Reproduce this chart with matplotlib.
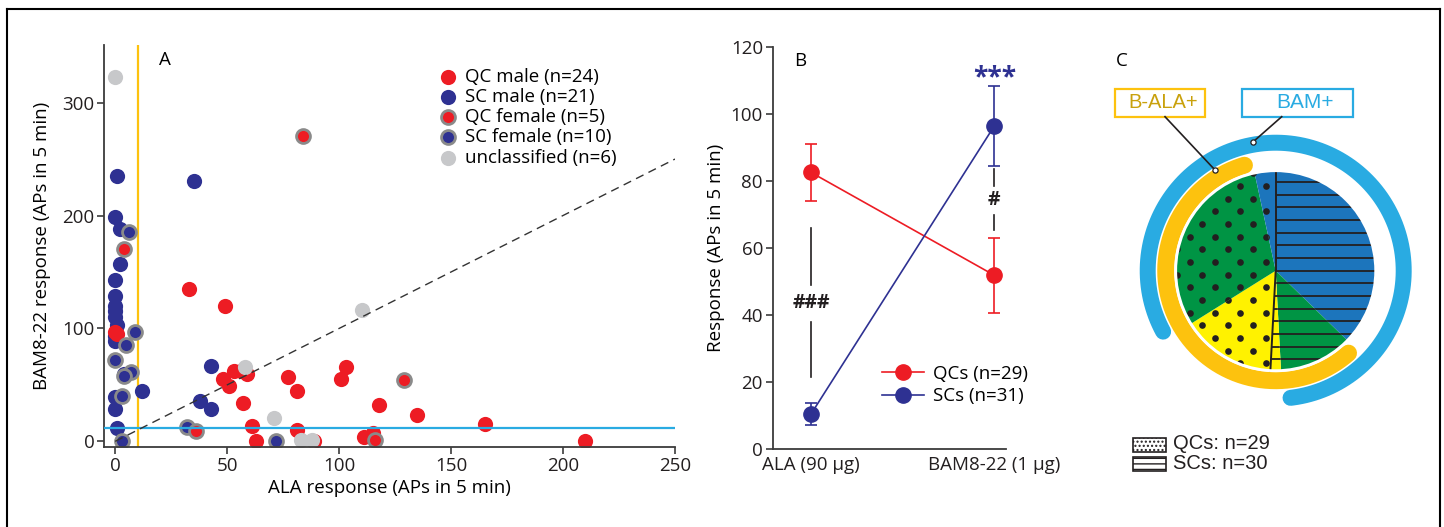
import numpy as np
import matplotlib
matplotlib.use("Agg")
import matplotlib.pyplot as plt
from matplotlib.lines import Line2D
from matplotlib.patches import Rectangle, Circle
from matplotlib.collections import LineCollection

plt.rcParams['font.family'] = ['Open Sans', 'DejaVu Sans']

# ---- colours
RED = '#ed1c24'
NAVY = '#2e3192'
FEM_EDGE = '#8a8a8a'
GREY = '#c7c8ca'
GOLD = '#fdc20e'
SKY = '#29abe2'
AXCOL = '#3c3c3c'
PIE_BLUE = '#1c75bc'
PIE_GREEN = '#009444'
PIE_YELLOW = '#fff200'
INK = '#231f20'

# ---- panel A: single-cell responses
qc_male_x = [0, 1, 33, 49, 48, 53, 51, 59, 57, 77, 81, 61, 63, 81, 89, 101, 103, 118, 135, 165, 210, 111, 115, 56]
qc_male_y = [97, 95, 135, 120, 55, 62, 49, 60, 34, 57, 45, 14, 0, 10, 0, 55, 66, 32, 23, 15, 0, 4, 7, 62]
sc_male_x = [1, 35, 0, 2, 2, 0, 0, 0, 0, 1, 0, 12, 0, 0, 1, 43, 38, 43, 0, 4, 0]
sc_male_y = [235, 231, 199, 188, 157, 143, 129, 120, 110, 103, 89, 45, 39, 29, 12, 67, 36, 29, 115, 60, 93]
qc_female_x = [84, 4, 36, 129, 116]
qc_female_y = [270, 170, 9, 54, 1]
sc_female_x = [6, 9, 5, 0, 7, 4, 3, 3, 32, 72]
sc_female_y = [185, 97, 85, 72, 61, 58, 40, 0, 13, 0]
uncl_x = [0, 58, 71, 83, 88, 110]
uncl_y = [323, 66, 21, 1, 1, 116]
ala_thresh = 10
bam_thresh = 12

# ---- panel B: mean +/- SEM
conditions = ['ALA (90 µg)', 'BAM8-22 (1 µg)']
qc_mean = [82.6, 51.9]
qc_sem = [8.5, 11.2]
sc_mean = [10.5, 96.5]
sc_sem = [3.3, 12.0]

# ---- panel C: responder classes (SC BAM-only, SC both, SC ALA-only, QC ALA-only, QC both, QC BAM-only)
pie_counts = [22, 7, 1, 9, 18, 2]
pie_groups = ['SC', 'SC', 'SC', 'QC', 'QC', 'QC']
pie_colors = [PIE_BLUE, PIE_GREEN, PIE_YELLOW, PIE_YELLOW, PIE_GREEN, PIE_BLUE]

W, H = 1444, 527
FS = 13.5
fig = plt.figure(figsize=(W / 100, H / 100), dpi=100)


def px_axes(x0, y0, x1, y1):
    # axes box from pixel corners (top-left origin)
    return fig.add_axes([x0 / W, (H - y1) / H, (x1 - x0) / W, (y1 - y0) / H])


def style_axes(ax):
    for s in ['top', 'right']:
        ax.spines[s].set_visible(False)
    for s in ['left', 'bottom']:
        ax.spines[s].set_color(AXCOL)
        ax.spines[s].set_linewidth(1.3)
    ax.tick_params(direction='out', length=5, width=1.2, color=AXCOL,
                   labelsize=FS, pad=2, labelcolor=INK)


# ================= A
axa = px_axes(104, 45, 675, 447)
style_axes(axa)
axa.set_xlim(-5, 250)
axa.set_ylim(-5, 351)
axa.set_xticks([0, 50, 100, 150, 200, 250])
axa.set_yticks([0, 100, 200, 300])

axa.axvline(ala_thresh, color=GOLD, lw=1.6, zorder=1)
mk = dict(s=120, zorder=2)
axa.scatter(sc_male_x, sc_male_y, color=NAVY, lw=0, label='SC male (n=21)', **mk)
axa.scatter(qc_male_x, qc_male_y, color=RED, lw=0, label='QC male (n=24)', **mk)
axa.scatter(sc_female_x, sc_female_y, color=NAVY, edgecolor=FEM_EDGE, lw=2,
            label='SC female (n=10)', s=100, zorder=2)
axa.scatter(qc_female_x, qc_female_y, color=RED, edgecolor=FEM_EDGE, lw=2,
            label='QC female (n=5)', s=100, zorder=2)
axa.scatter(uncl_x, uncl_y, color=GREY, lw=0, label='unclassified (n=6)', **mk)
axa.axhline(bam_thresh, color=SKY, lw=1.6, zorder=3)
axa.plot([0, 250], [0, 250], ls=(0, (6, 4)), color='#333333', lw=1.0, zorder=3)

h, l = axa.get_legend_handles_labels()
order = [1, 0, 3, 2, 4]
axa.legend([h[i] for i in order], [l[i] for i in order], loc='upper left',
           bbox_to_anchor=(0.566, 0.967), frameon=False, fontsize=FS,
           handletextpad=0.3, labelspacing=0.12, borderpad=0, handlelength=1.2)

axa.set_xlabel('ALA response (APs in 5 min)', fontsize=FS, labelpad=3)
axa.set_ylabel('BAM8-22 response (APs in 5 min)', fontsize=FS, labelpad=8)
axa.text(22, 338, 'A', fontsize=FS, ha='center', va='center')

# ================= B
axb = px_axes(772.7, 47.3, 1006, 449)
style_axes(axb)
axb.set_xlim(-0.21, 1.064)
axb.set_ylim(0, 120)
axb.set_yticks(range(0, 121, 20))
xpos = np.arange(len(conditions))
axb.set_xticks(xpos)
axb.set_xticklabels(conditions)
axb.tick_params(axis='x', length=0, pad=5)

handles = []
for mean, sem, col, lab in [(qc_mean, qc_sem, RED, 'QCs (n=29)'),
                            (sc_mean, sc_sem, NAVY, 'SCs (n=31)')]:
    axb.errorbar(xpos, mean, yerr=sem, color=col, lw=1.2, elinewidth=1.2,
                 capsize=4.5, capthick=1.2, marker='o', markersize=11, zorder=3)
    handles.append(Line2D([], [], color=col, lw=1.2, marker='o', markersize=11, label=lab))

axb.legend(handles=handles, loc='upper left', bbox_to_anchor=(0.43, 0.233),
           frameon=False, fontsize=FS, handlelength=2.2, handletextpad=0.5,
           labelspacing=0.25, borderpad=0)

axb.text(1, 111, '***', color=NAVY, fontsize=19, fontweight='bold',
         ha='center', va='center')
axb.plot([0, 0], [21.5, 38], color=INK, lw=1.2)
axb.plot([0, 0], [49, 66], color=INK, lw=1.2)
axb.text(0, 43.6, '###', fontsize=14, fontweight='bold', ha='center', va='center', color=INK)
axb.plot([1, 1], [78.5, 83.5], color=INK, lw=1.2)
axb.plot([1, 1], [65.4, 70], color=INK, lw=1.2)
axb.text(1, 74.4, '#', fontsize=14, fontweight='bold', ha='center', va='center', color=INK)
axb.set_ylabel('Response (APs in 5 min)', fontsize=FS, labelpad=4)
axb.text(-0.058, 116, 'B', fontsize=FS, ha='center', va='center')

# ================= C
axc = px_axes(1100, 40, 1440, 500)
wedges, _ = axc.pie(pie_counts, colors=pie_colors, startangle=90,
                    counterclock=False, radius=1.0,
                    wedgeprops=dict(edgecolor='none', linewidth=0))
axc.set_xlim(-1.757, 1.643)
axc.set_ylim(-2.293, 2.307)
axc.set_axis_off()

# pattern fills: dots for QCs, horizontal lines for SCs
row_gap = 0.1267
for w, grp in zip(wedges, pie_groups):
    if grp == 'SC':
        ys = 0.593 + row_gap * np.arange(-13, 5) + 0.04
        segs = [[(-1.1, y), (1.1, y)] for y in ys]
        lc = LineCollection(segs, colors=INK, linewidths=1.3, zorder=3)
        axc.add_collection(lc)
        lc.set_clip_path(w)
    else:
        px, py = [], []
        for j in range(-13, 5):
            y = 0.593 + j * row_gap
            x0 = -0.1 + (j % 2) * row_gap
            for i in range(-6, 6):
                px.append(x0 + i * 2 * row_gap)
                py.append(y)
        dots = axc.scatter(px, py, s=23, color=INK, lw=0, zorder=3)
        dots.set_clip_path(w)

bounds = 90 - 360 * np.concatenate([[0], np.cumsum(pie_counts)]) / sum(pie_counts)
for a in [bounds[0], bounds[3]]:
    t = np.deg2rad(a)
    axc.plot([0, np.cos(t)], [0, np.sin(t)], color=INK, lw=1.4, zorder=4)
axc.add_patch(Circle((0, 0), 1.0, fill=False, ec='white', lw=2, zorder=5))


def ring(start, stop, r, color, lw, inset):
    # arc drawn clockwise from start to stop (degrees)
    t = np.deg2rad(np.linspace(start - inset, stop + inset, 300))
    axc.plot(r * np.cos(t), r * np.sin(t), color=color, lw=lw,
             solid_capstyle='round', zorder=2)


# BAM+ classes run clockwise from the QC-both slice through the SC-both slice
ring(bounds[4], bounds[2] - 360, 1.28, SKY, 11.5, 3.6)
# ALA+ classes: SC-both through QC-both
ring(bounds[1], bounds[5], 1.10, GOLD, 12.2, 4.3)

# labelled boxes with leaders
axc.add_patch(Rectangle((-1.607, 1.54), 0.9, 0.277, fill=False, ec=GOLD, lw=1.6))
axc.text(-1.157 + 0.03, 1.68, 'B-ALA+', color='#c9a10c', fontsize=14.5,
         family='Liberation Sans', ha='center', va='center')
axc.add_patch(Rectangle((-0.34, 1.54), 1.116, 0.277, fill=False, ec=SKY, lw=1.6))
axc.text(0.29, 1.68, 'BAM+', color=SKY, fontsize=15,
         family='Liberation Sans', ha='center', va='center')
axc.plot([-1.107, -0.607], [1.54, 1.007], color=INK, lw=1.2)
axc.plot([0.06, -0.224], [1.54, 1.29], color=INK, lw=1.2)
axc.scatter([-0.607, -0.224], [1.007, 1.29], s=14, color='white',
            edgecolor=INK, lw=0.9, zorder=6)

# pattern key
axc.add_patch(Rectangle((-1.424, -1.81), 0.327, 0.134, facecolor='white',
                        edgecolor=INK, hatch='....', lw=1.2))
axc.add_patch(Rectangle((-1.424, -2.0), 0.327, 0.134, facecolor='white',
                        edgecolor=INK, hatch='---', lw=1.2))
axc.text(-1.024, -1.733, 'QCs: n=29', fontsize=14.5, family='Liberation Sans',
         ha='left', va='center', color=INK)
axc.text(-1.024, -1.93, 'SCs: n=30', fontsize=14.5, family='Liberation Sans',
         ha='left', va='center', color=INK)
axc.text(-1.54, 2.1, 'C', fontsize=FS, ha='center', va='center')

# outer frame
top, left, right = (H - 9.3) / H, 7 / W, 1439.5 / W
for xs, ys in [([left, right], [top, top]), ([left, left], [top, 0]),
               ([right, right], [top, 0])]:
    fig.add_artist(Line2D(xs, ys, transform=fig.transFigure, color='black', lw=1.5))

fig.savefig('out.png', dpi=100)
